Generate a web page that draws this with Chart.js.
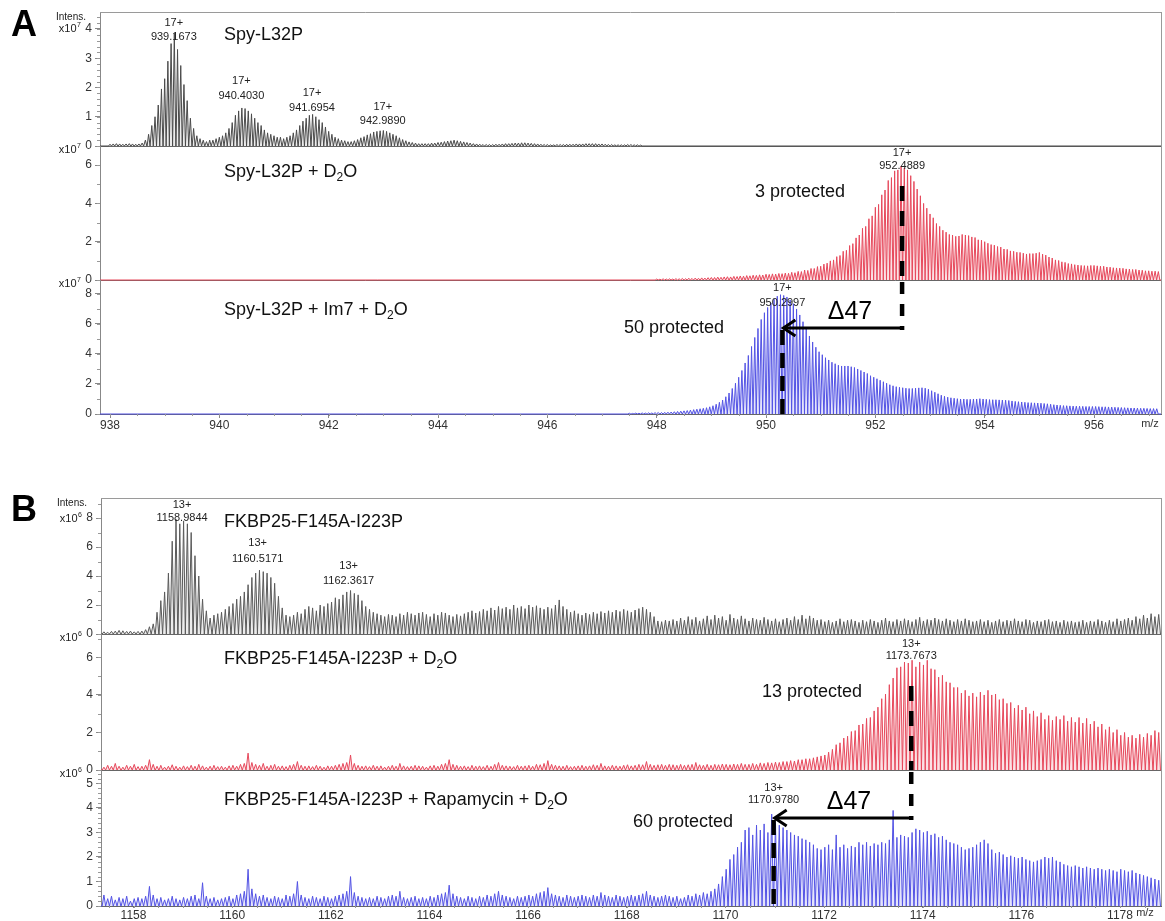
<!DOCTYPE html>
<html>
<head>
<meta charset="utf-8">
<script src="https://cdn.jsdelivr.net/npm/chart.js@4.4.1/dist/chart.umd.min.js"></script>
<style>
  html, body { margin: 0; padding: 0; background: #fff; }
  #fig { position: relative; width: 1165px; height: 921px; overflow: hidden; }
  #fig canvas { position: absolute; left: 0; }
</style>
</head>
<body>
<div id="fig">
  <canvas id="aTop" width="1165" height="160" style="top:0px"></canvas>
  <canvas id="aMid" width="1165" height="164" style="top:130px"></canvas>
  <canvas id="aBot" width="1165" height="176" style="top:264px"></canvas>
  <canvas id="bTop" width="1165" height="168" style="top:480px"></canvas>
  <canvas id="bMid" width="1165" height="166" style="top:618px"></canvas>
  <canvas id="bBot" width="1165" height="167" style="top:754px"></canvas>
</div>
<script>
const FONT = "'Liberation Sans', Arial, sans-serif";

// isotope spacing of the 17+ (panel A) and 13+ (panel B) ions
const isoA = 1 / 17;
const isoB = 1 / 13;

const xTicksA = [938, 940, 942, 944, 946, 948, 950, 952, 954, 956];
const xTicksB = [1158, 1160, 1162, 1164, 1166, 1168, 1170, 1172, 1174, 1176, 1178];

const yTicksTopA = [0, 1, 2, 3, 4];
const yTicksMidA = [0, 2, 4, 6];
const yTicksBotA = [0, 2, 4, 6, 8];
const yTicksTopB = [0, 2, 4, 6, 8];
const yTicksMidB = [0, 2, 4, 6];
const yTicksBotB = [0, 1, 2, 3, 4, 5];

// peak heights (x10^7 for A, x10^6 for B), one per isotope peak
const startTopA = 938.0;
const topA = [
  0.06,0.07,0.08,0.07,0.06,0.07,0.08,0.07,0.06,0.07,
  0.1,0.2,0.4,0.7,1.0,1.4,1.95,2.3,2.9,3.5,
  3.85,3.3,2.75,2.1,1.55,0.95,0.6,0.35,0.25,0.2,
  0.15,0.2,0.2,0.25,0.3,0.35,0.45,0.6,0.8,1.05,
  1.2,1.3,1.28,1.2,1.1,0.95,0.8,0.7,0.55,0.45,
  0.4,0.35,0.3,0.3,0.25,0.3,0.35,0.45,0.55,0.7,
  0.85,0.95,1.05,1.08,1.0,0.9,0.8,0.65,0.5,0.4,
  0.3,0.25,0.2,0.18,0.15,0.15,0.18,0.22,0.28,0.32,
  0.38,0.42,0.48,0.5,0.52,0.53,0.5,0.45,0.4,0.35,
  0.28,0.22,0.18,0.14,0.12,0.1,0.08,0.08,0.08,0.08,
  0.1,0.1,0.12,0.13,0.15,0.17,0.18,0.2,0.18,0.16,
  0.14,0.12,0.1,0.08,0.07,0.06,0.05,0.05,0.05,0.05,
  0.06,0.06,0.07,0.08,0.08,0.09,0.1,0.1,0.11,0.11,
  0.1,0.09,0.08,0.07,0.06,0.05,0.05,0.04,0.04,0.05,
  0.05,0.05,0.06,0.06,0.06,0.07,0.07,0.07,0.08,0.08,
  0.08,0.08,0.07,0.07,0.06,0.05,0.05,0.04,0.04,0.04,
  0.04,0.05,0.05,0.04,0.04,0.03
];

const startMidA = 948.0;
const midA = [
  0.05,0.04,0.06,0.05,0.06,0.05,0.07,0.06,0.08,0.07,
  0.09,0.08,0.1,0.09,0.11,0.1,0.12,0.13,0.13,0.15,
  0.14,0.16,0.17,0.16,0.19,0.18,0.21,0.2,0.23,0.22,
  0.25,0.24,0.27,0.26,0.3,0.29,0.32,0.31,0.34,0.33,
  0.36,0.35,0.4,0.38,0.45,0.44,0.52,0.5,0.6,0.6,
  0.7,0.72,0.83,0.88,1.0,1.05,1.22,1.28,1.5,1.55,
  1.8,1.9,2.2,2.35,2.7,2.8,3.2,3.35,3.8,3.95,
  4.45,4.7,5.2,5.35,5.7,5.75,5.95,5.85,5.75,5.45,
  5.15,4.75,4.4,4.0,3.75,3.45,3.25,2.95,2.8,2.6,
  2.5,2.38,2.35,2.28,2.3,2.38,2.35,2.32,2.25,2.22,
  2.1,2.08,2.0,1.92,1.85,1.82,1.75,1.72,1.62,1.6,
  1.52,1.5,1.45,1.44,1.4,1.36,1.38,1.38,1.4,1.44,
  1.35,1.3,1.2,1.15,1.05,1.02,0.95,0.92,0.86,0.84,
  0.8,0.78,0.76,0.75,0.74,0.76,0.76,0.74,0.72,0.72,
  0.68,0.67,0.64,0.63,0.62,0.61,0.58,0.57,0.55,0.55,
  0.52,0.51,0.48,0.48,0.46,0.46,0.44
];

const startBotA = 947.5;
const botA = [
  0.05,0.04,0.06,0.05,0.07,0.06,0.08,0.07,0.09,0.1,
  0.1,0.11,0.12,0.13,0.15,0.17,0.19,0.21,0.23,0.26,
  0.29,0.32,0.35,0.38,0.42,0.48,0.55,0.65,0.78,0.93,
  1.15,1.4,1.7,2.05,2.45,2.9,3.4,3.9,4.5,5.1,
  5.7,6.3,6.75,7.1,7.4,7.65,7.85,7.95,7.9,7.8,
  7.6,7.35,7.0,6.6,6.15,5.7,5.2,4.8,4.45,4.15,
  3.95,3.75,3.6,3.45,3.35,3.25,3.2,3.2,3.2,3.15,
  3.1,3.0,2.9,2.8,2.7,2.55,2.45,2.35,2.25,2.15,
  2.05,1.95,1.88,1.82,1.78,1.75,1.72,1.7,1.7,1.72,
  1.74,1.75,1.72,1.65,1.55,1.45,1.35,1.25,1.18,1.12,
  1.08,1.05,1.02,1.0,1.0,0.98,0.98,1.0,1.0,1.02,
  1.0,0.98,0.96,0.95,0.95,0.94,0.93,0.92,0.9,0.87,
  0.84,0.82,0.8,0.78,0.76,0.75,0.74,0.73,0.72,0.7,
  0.68,0.65,0.62,0.6,0.58,0.56,0.55,0.54,0.53,0.52,
  0.52,0.51,0.5,0.5,0.5,0.5,0.49,0.48,0.48,0.47,
  0.46,0.45,0.44,0.43,0.42,0.41,0.4,0.4,0.39,0.38,
  0.38,0.37,0.36,0.36,0.35
];

const startB = 1157.40;
const topB = [
  0.15,0.12,0.18,0.2,0.25,0.22,0.18,0.2,0.15,0.18,
  0.2,0.3,0.5,0.7,1.5,2.3,2.9,4.2,6.4,7.9,
  7.6,7.8,7.6,7.0,5.4,4.0,2.4,1.6,1.1,1.3,
  1.4,1.5,1.7,1.9,2.1,2.4,2.6,2.9,3.4,3.9,
  4.2,4.4,4.3,4.2,3.9,3.5,2.6,1.8,1.3,1.2,
  1.3,1.5,1.4,1.7,1.9,1.8,1.6,2.0,1.9,2.1,
  2.2,2.5,2.4,2.7,2.9,3.0,2.8,2.7,2.3,1.9,
  1.7,1.5,1.4,1.3,1.2,1.35,1.3,1.2,1.4,1.3,
  1.5,1.4,1.3,1.45,1.5,1.35,1.2,1.4,1.3,1.5,
  1.45,1.3,1.2,1.35,1.25,1.4,1.5,1.6,1.45,1.55,
  1.7,1.6,1.8,1.65,1.9,1.75,1.85,1.7,2.0,1.8,
  1.9,1.75,2.0,1.85,1.95,1.8,1.7,1.85,1.75,2.0,
  2.35,1.9,1.7,1.5,1.6,1.4,1.3,1.45,1.35,1.5,
  1.4,1.55,1.45,1.6,1.5,1.65,1.55,1.7,1.6,1.5,
  1.65,1.75,1.85,1.7,1.5,1.2,0.9,0.85,0.95,0.9,
  1.0,0.9,1.1,0.95,1.2,1.0,1.15,0.9,1.05,1.25,
  1.0,1.3,1.1,1.2,0.95,1.35,1.1,1.0,1.25,1.05,
  0.9,1.1,1.0,0.95,1.15,1.0,0.9,1.05,0.85,1.0,
  1.1,0.95,1.2,1.0,1.3,1.05,1.25,1.1,0.95,1.0,
  0.85,0.95,0.8,0.9,1.05,0.85,0.95,1.0,0.9,0.8,
  0.95,0.85,1.0,0.9,0.8,0.95,1.1,0.9,0.85,1.0,
  0.9,1.05,0.95,0.85,1.0,1.15,0.9,1.0,0.95,1.1,
  1.0,0.9,1.05,0.95,0.85,1.0,0.9,1.05,0.95,0.85,
  0.9,1.0,0.85,0.95,0.8,0.9,1.0,0.85,0.95,0.9,
  1.05,0.9,0.85,1.0,0.95,0.8,0.9,0.85,0.95,1.0,
  0.85,0.9,0.8,0.95,0.85,0.9,0.8,0.85,0.95,0.8,
  0.9,0.85,1.0,0.9,0.8,0.95,0.85,1.05,0.9,1.0,
  1.1,0.95,1.2,1.05,1.3,1.1,1.4,1.2,1.35
];

const midB = [
  0.15,0.25,0.2,0.35,0.2,0.15,0.25,0.2,0.3,0.18,
  0.2,0.25,0.55,0.3,0.2,0.25,0.15,0.2,0.28,0.2,
  0.15,0.22,0.18,0.25,0.2,0.3,0.22,0.15,0.2,0.25,
  0.18,0.2,0.15,0.22,0.25,0.2,0.3,0.35,0.9,0.4,
  0.3,0.25,0.35,0.2,0.25,0.3,0.2,0.22,0.18,0.25,
  0.3,0.45,0.25,0.2,0.22,0.18,0.25,0.2,0.15,0.22,
  0.2,0.25,0.3,0.35,0.4,0.8,0.35,0.25,0.2,0.22,
  0.18,0.25,0.2,0.22,0.15,0.2,0.25,0.2,0.35,0.22,
  0.18,0.2,0.25,0.22,0.2,0.15,0.22,0.25,0.2,0.3,
  0.35,0.55,0.3,0.25,0.2,0.22,0.18,0.25,0.2,0.22,
  0.18,0.25,0.2,0.3,0.4,0.25,0.22,0.2,0.18,0.25,
  0.2,0.22,0.25,0.2,0.3,0.28,0.35,0.5,0.3,0.25,
  0.22,0.2,0.25,0.18,0.2,0.22,0.25,0.2,0.22,0.28,
  0.25,0.35,0.22,0.2,0.25,0.22,0.2,0.25,0.28,0.22,
  0.25,0.3,0.28,0.45,0.3,0.25,0.28,0.3,0.25,0.3,
  0.28,0.25,0.3,0.25,0.28,0.3,0.4,0.28,0.25,0.3,
  0.25,0.3,0.28,0.32,0.3,0.28,0.32,0.3,0.35,0.3,
  0.3,0.35,0.3,0.38,0.35,0.4,0.38,0.42,0.4,0.45,
  0.45,0.5,0.48,0.55,0.55,0.6,0.6,0.65,0.7,0.75,
  0.8,0.95,1.1,1.35,1.45,1.7,1.8,2.05,2.1,2.4,
  2.45,2.75,2.8,3.15,3.35,3.8,4.05,4.55,4.9,5.45,
  5.5,5.75,5.7,5.85,5.5,5.75,5.6,5.85,5.4,5.35,
  4.95,5.05,4.7,4.65,4.4,4.4,4.1,4.25,3.95,4.1,
  3.9,4.15,4.0,4.25,4.0,4.05,3.75,3.8,3.55,3.6,
  3.3,3.45,3.2,3.35,3.0,3.15,2.85,3.05,2.7,2.9,
  2.65,2.85,2.7,2.9,2.6,2.8,2.55,2.8,2.5,2.75,
  2.45,2.6,2.3,2.45,2.15,2.3,2.0,2.15,1.85,2.0,
  1.75,1.85,1.7,1.9,1.75,1.95,1.85,2.1,2.0
];

const botB = [
  0.45,0.3,0.4,0.25,0.35,0.3,0.4,0.2,0.3,0.35,
  0.3,0.4,0.8,0.45,0.3,0.35,0.25,0.3,0.4,0.3,
  0.25,0.35,0.3,0.4,0.45,0.3,0.95,0.4,0.3,0.35,
  0.25,0.3,0.35,0.4,0.3,0.45,0.5,0.6,1.5,0.7,
  0.5,0.4,0.45,0.35,0.3,0.4,0.35,0.3,0.45,0.4,
  0.5,1.0,0.45,0.35,0.3,0.4,0.35,0.3,0.4,0.35,
  0.3,0.4,0.45,0.5,0.6,1.2,0.55,0.4,0.35,0.3,
  0.35,0.3,0.4,0.35,0.3,0.4,0.45,0.4,0.6,0.35,
  0.3,0.35,0.4,0.3,0.35,0.3,0.4,0.35,0.45,0.5,
  0.55,0.85,0.5,0.4,0.35,0.3,0.4,0.35,0.3,0.4,
  0.35,0.45,0.4,0.5,0.6,0.45,0.4,0.35,0.3,0.4,
  0.35,0.4,0.45,0.4,0.5,0.55,0.6,0.75,0.5,0.45,
  0.4,0.35,0.45,0.4,0.35,0.4,0.45,0.4,0.35,0.45,
  0.4,0.55,0.45,0.4,0.35,0.45,0.4,0.35,0.4,0.45,
  0.4,0.45,0.5,0.6,0.45,0.4,0.35,0.4,0.45,0.4,
  0.35,0.4,0.3,0.35,0.45,0.4,0.5,0.45,0.55,0.5,
  0.6,0.7,0.9,1.2,1.5,1.9,2.1,2.4,2.6,3.1,
  3.2,2.9,3.3,3.1,3.35,3.0,3.75,3.4,3.3,3.2,
  3.1,3.0,2.9,2.85,2.75,2.7,2.6,2.5,2.35,2.3,
  2.4,2.5,2.3,2.9,2.4,2.5,2.35,2.45,2.4,2.6,
  2.5,2.6,2.45,2.55,2.5,2.6,2.55,2.7,3.9,2.8,
  2.9,2.85,2.8,3.0,3.15,3.1,3.0,3.05,2.9,2.95,
  2.8,2.85,2.7,2.6,2.55,2.5,2.4,2.3,2.35,2.4,
  2.5,2.6,2.7,2.55,2.3,2.15,2.2,2.1,2.0,2.05,
  2.0,1.95,2.0,1.9,1.85,1.8,1.85,1.9,2.0,1.95,
  2.0,1.85,1.8,1.7,1.65,1.6,1.65,1.6,1.55,1.6,
  1.55,1.5,1.55,1.5,1.45,1.5,1.45,1.4,1.5,1.45,
  1.4,1.45,1.35,1.3,1.25,1.2,1.15,1.1,1.05
];

// ---- drawing helpers ----
function spikes(start, step, heights, xMin, xMax) {
  const w = step * 0.46;
  const pts = [{ x: xMin, y: 0 }];
  heights.forEach((h, i) => {
    const mz = start + i * step;
    pts.push({ x: mz - w, y: 0 }, { x: mz, y: h }, { x: mz + w, y: 0 });
  });
  pts.push({ x: xMax, y: 0 });
  return pts;
}

function makeDraw(ctx, chart, top) {
  const xs = chart.scales.x;
  const d = {
    X: mz => xs.getPixelForValue(mz),
    Y: py => py - top,
    text(s, x, y, size, align, weight, color) {
      ctx.save();
      ctx.font = (weight || 'normal') + ' ' + size + 'px ' + FONT;
      ctx.fillStyle = color || '#111';
      ctx.textAlign = align || 'left';
      ctx.textBaseline = 'middle';
      ctx.fillText(s, x, d.Y(y));
      ctx.restore();
    },
    // title with optional subscript parts: strings normal, arrays subscript
    title(parts, x, y, size, align) {
      size = size || 18;
      ctx.save();
      ctx.fillStyle = '#111';
      ctx.textBaseline = 'middle';
      let total = 0;
      parts.forEach(p => {
        ctx.font = (Array.isArray(p) ? Math.round(size * 0.65) : size) + 'px ' + FONT;
        total += ctx.measureText(Array.isArray(p) ? p[0] : p).width;
      });
      let cx = align === 'right' ? x - total : x;
      parts.forEach(p => {
        const sub = Array.isArray(p);
        const s = sub ? p[0] : p;
        ctx.font = (sub ? Math.round(size * 0.65) : size) + 'px ' + FONT;
        ctx.fillText(s, cx, d.Y(y) + (sub ? size * 0.3 : 0));
        cx += ctx.measureText(s).width;
      });
      ctx.restore();
    },
    peak(charge, mzText, y1, y2) {
      const x = d.X(parseFloat(mzText));
      d.text(charge, x, y1, 11, 'center', 'normal', '#222');
      d.text(mzText, x, y2, 11, 'center', 'normal', '#222');
    },
    exp(power, xRight, y) {
      ctx.save();
      ctx.fillStyle = '#222';
      ctx.textBaseline = 'middle';
      ctx.font = '7px ' + FONT;
      const pw = ctx.measureText(power).width;
      ctx.textAlign = 'right';
      ctx.fillText(power, xRight, d.Y(y) - 4);
      ctx.font = '11px ' + FONT;
      ctx.fillText('x10', xRight - pw - 0.5, d.Y(y));
      ctx.restore();
    },
    dashed(x, y1, y2, dash) {
      ctx.save();
      ctx.strokeStyle = '#000';
      ctx.lineWidth = 4.5;
      ctx.setLineDash(dash || [15, 10]);
      ctx.beginPath();
      ctx.moveTo(x, d.Y(y1));
      ctx.lineTo(x, d.Y(y2));
      ctx.stroke();
      ctx.restore();
    },
    arrow(xFrom, xTo, y) {
      const yy = d.Y(y);
      ctx.save();
      ctx.strokeStyle = '#000';
      ctx.lineWidth = 3;
      ctx.beginPath();
      ctx.moveTo(xFrom, yy);
      ctx.lineTo(xTo + 2, yy);
      ctx.stroke();
      ctx.beginPath();
      ctx.moveTo(xTo + 13, yy - 8);
      ctx.lineTo(xTo + 1, yy);
      ctx.lineTo(xTo + 13, yy + 8);
      ctx.stroke();
      ctx.restore();
    }
  };
  return d;
}

function spectrum(id, o) {
  const cv = document.getElementById(id);
  const top = parseFloat(cv.style.top);
  const decor = {
    id: 'decor',
    beforeDatasetsDraw(chart) {
      const ctx = chart.ctx, a = chart.chartArea;
      ctx.save();
      ctx.strokeStyle = '#9a9a9a';
      ctx.lineWidth = 1;
      ctx.beginPath();
      ctx.moveTo(a.right + 0.5, a.top);
      ctx.lineTo(a.right + 0.5, a.bottom);
      if (o.frameTop) {
        ctx.moveTo(a.left, a.top + 0.5);
        ctx.lineTo(a.right, a.top + 0.5);
      }
      ctx.stroke();
      ctx.strokeStyle = '#666';
      ctx.beginPath();
      ctx.moveTo(a.left, a.bottom + 0.5);
      ctx.lineTo(a.right, a.bottom + 0.5);
      ctx.stroke();
      ctx.restore();
    },
    afterDraw(chart) {
      const ctx = chart.ctx, a = chart.chartArea;
      const ys = chart.scales.y, xs = chart.scales.x;
      ctx.save();
      ctx.strokeStyle = '#999';
      ctx.lineWidth = 1;
      ctx.beginPath();
      for (let v = 0; v <= ys.max + 1e-9; v += o.minorY) {
        const py = Math.round(ys.getPixelForValue(v)) + 0.5;
        ctx.moveTo(a.left - 3, py);
        ctx.lineTo(a.left, py);
      }
      if (o.showX) {
        for (let v = Math.ceil(xs.min / 0.5) * 0.5; v <= xs.max; v += 0.5) {
          const px = Math.round(xs.getPixelForValue(v)) + 0.5;
          ctx.moveTo(px, a.bottom);
          ctx.lineTo(px, a.bottom + 2);
        }
      }
      ctx.stroke();
      ctx.restore();
      o.notes(makeDraw(ctx, chart, top));
    }
  };
  return new Chart(cv, {
    type: 'line',
    data: {
      datasets: [{
        data: spikes(o.start, o.step, o.values, o.xMin, o.xMax),
        borderColor: o.color,
        backgroundColor: o.fillColor,
        borderWidth: 1,
        pointRadius: 0,
        tension: 0,
        fill: 'origin',
        clip: 2
      }]
    },
    options: {
      responsive: false,
      animation: false,
      devicePixelRatio: 1,
      parsing: false,
      normalized: true,
      layout: { padding: { top: o.padTop, bottom: o.padBottom, left: 0, right: 4 } },
      plugins: { legend: { display: false }, tooltip: { enabled: false } },
      scales: {
        x: {
          type: 'linear',
          min: o.xMin,
          max: o.xMax,
          display: o.showX,
          afterFit: s => { s.height = o.xAxisH || 0; },
          afterBuildTicks: s => { s.ticks = o.xTicks.map(v => ({ value: v })); },
          ticks: {
            color: '#333', font: { size: 12, family: FONT }, padding: 0,
            maxRotation: 0, autoSkip: false, callback: v => String(v)
          },
          grid: { drawOnChartArea: false, tickLength: o.xTickLen || 4, color: '#888' },
          border: { color: '#666' }
        },
        y: {
          min: 0,
          max: o.yMax,
          afterFit: s => { s.width = o.axisW; },
          afterBuildTicks: s => { s.ticks = o.yTicks.map(v => ({ value: v })); },
          ticks: {
            color: '#333', font: { size: 12, family: FONT }, padding: 3,
            autoSkip: false, callback: v => String(v)
          },
          grid: { drawOnChartArea: false, tickLength: 5, color: '#888' },
          border: { color: '#888' }
        }
      }
    },
    plugins: [decor]
  });
}

const xMinA = 937.817, xMaxA = 957.225;
const xMinB = 1157.341, xMaxB = 1178.831;
const red = '#e6485b', blue = '#5353e4';
const redFill = 'rgba(235, 120, 135, 0.22)', blueFill = 'rgba(130, 130, 235, 0.22)';
const greyFill = 'rgba(150, 150, 150, 0.18)';

// ---- panel A ----
spectrum('aTop', {
  start: startTopA, step: isoA, values: topA, color: '#4a4a4a', fillColor: greyFill,
  xMin: xMinA, xMax: xMaxA, xTicks: xTicksA, showX: false,
  yMax: 4.58, yTicks: yTicksTopA, minorY: 0.2, axisW: 100,
  padTop: 12, padBottom: 14, frameTop: true,
  notes(d) {
    d.text('A', 11, 26, 36, 'left', 'bold', '#000');
    d.text('Intens.', 71, 17, 10, 'center', 'normal', '#222');
    d.exp('7', 81, 29);
    d.title(['Spy-L32P'], 224, 35);
    d.peak('17+', '939.1673', 23, 37);
    d.peak('17+', '940.4030', 81, 96);
    d.peak('17+', '941.6954', 93, 108);
    d.peak('17+', '942.9890', 107, 121);
  }
});

spectrum('aMid', {
  start: startMidA, step: isoA, values: midA, color: red, fillColor: redFill,
  xMin: xMinA, xMax: xMaxA, xTicks: xTicksA, showX: false,
  yMax: 7.0, yTicks: yTicksMidA, minorY: 1, axisW: 100,
  padTop: 16, padBottom: 14,
  notes(d) {
    d.exp('7', 81, 150);
    d.title(['Spy-L32P + D', ['2'], 'O'], 224, 172);
    d.text('3 protected', 755, 192, 18);
    d.peak('17+', '952.4889', 153, 166);
    d.dashed(d.X(952.4889), 186, 280);
  }
});

spectrum('aBot', {
  start: startBotA, step: isoA, values: botA, color: blue, fillColor: blueFill,
  xMin: xMinA, xMax: xMaxA, xTicks: xTicksA, showX: true, xAxisH: 26,
  yMax: 8.93, yTicks: yTicksBotA, minorY: 1, axisW: 100,
  padTop: 16, padBottom: 0,
  notes(d) {
    d.exp('7', 81, 284);
    d.title(['Spy-L32P + Im7 + D', ['2'], 'O'], 224, 310);
    d.text('50 protected', 724, 328, 18, 'right');
    d.peak('17+', '950.2997', 288, 303);
    d.dashed(d.X(952.4889), 282, 330, [12, 10]);
    d.arrow(d.X(952.4889), d.X(950.2997), 328);
    d.dashed(d.X(950.2997), 330, 414, [15, 8]);
    d.text('\u039447', 850, 312, 25, 'center', 'normal', '#000');
    d.text('m/z', 1150, 424, 11, 'center', 'normal', '#333');
  }
});

// ---- panel B ----
spectrum('bTop', {
  start: startB, step: isoB, values: topB, color: '#5a5a5a', fillColor: greyFill,
  xMin: xMinB, xMax: xMaxB, xTicks: xTicksB, showX: false,
  yMax: 9.38, yTicks: yTicksTopB, minorY: 1, axisW: 101,
  padTop: 18, padBottom: 14, frameTop: true,
  notes(d) {
    d.text('B', 11, 511, 36, 'left', 'bold', '#000');
    d.text('Intens.', 72, 503, 10, 'center', 'normal', '#222');
    d.exp('6', 82, 519);
    d.title(['FKBP25-F145A-I223P'], 224, 522);
    d.peak('13+', '1158.9844', 505, 518);
    d.peak('13+', '1160.5171', 543, 559);
    d.peak('13+', '1162.3617', 566, 581);
  }
});

spectrum('bMid', {
  start: startB, step: isoB, values: midB, color: red, fillColor: redFill,
  xMin: xMinB, xMax: xMaxB, xTicks: xTicksB, showX: false,
  yMax: 7.25, yTicks: yTicksMidB, minorY: 1, axisW: 101,
  padTop: 16, padBottom: 14,
  notes(d) {
    d.exp('6', 82, 638);
    d.title(['FKBP25-F145A-I223P + D', ['2'], 'O'], 224, 659);
    d.text('13 protected', 762, 692, 18);
    d.peak('13+', '1173.7673', 644, 656);
    d.dashed(d.X(1173.7673), 686, 770);
  }
});

spectrum('bBot', {
  start: startB, step: isoB, values: botB, color: blue, fillColor: blueFill,
  xMin: xMinB, xMax: xMaxB, xTicks: xTicksB, showX: true, xAxisH: 15, xTickLen: 2,
  yMax: 5.55, yTicks: yTicksBotB, minorY: 0.2, axisW: 101,
  padTop: 16, padBottom: 0,
  notes(d) {
    d.exp('6', 82, 774);
    d.title(['FKBP25-F145A-I223P + Rapamycin + D', ['2'], 'O'], 224, 800);
    d.text('60 protected', 733, 822, 18, 'right');
    d.peak('13+', '1170.9780', 788, 800);
    d.dashed(d.X(1173.7673), 772, 820, [12, 10]);
    d.arrow(d.X(1173.7673), d.X(1170.978), 818);
    d.dashed(d.X(1170.978), 820, 906, [15, 8]);
    d.text('\u039447', 849, 802, 25, 'center', 'normal', '#000');
    d.text('m/z', 1145, 913, 11, 'center', 'normal', '#333');
  }
});
</script>
</body>
</html>
